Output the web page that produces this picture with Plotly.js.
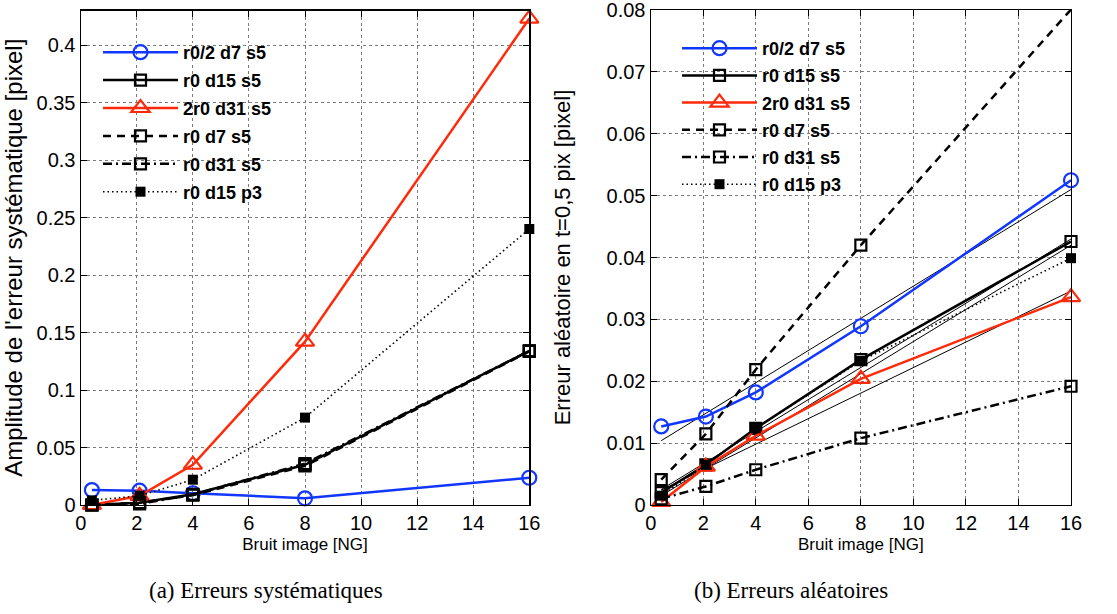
<!DOCTYPE html>
<html>
<head>
<meta charset="utf-8">
<script src="https://cdn.plot.ly/plotly-3.0.1.min.js"></script>
<style>
  html, body { margin: 0; padding: 0; background: #ffffff; }
  #chart { width: 1117px; height: 614px; }
</style>
</head>
<body>
<div id="chart"></div>
<script>
// ---- data ----
const noiseLevels = [0.4, 2.1, 4, 8, 16];
const seriesNames = ['r0/2 d7 s5', 'r0 d15 s5', '2r0 d31 s5', 'r0 d7 s5', 'r0 d31 s5', 'r0 d15 p3'];

// (a) systematic error amplitude [pixel]
const sysR02d7s5  = [0.013, 0.0125, 0.0102, 0.0058, 0.0237];
const sysR0d15s5  = [0.000, 0.0020, 0.0093, 0.0350, 0.1340];
const sys2R0d31s5 = [0.000, 0.0080, 0.0350, 0.1420, 0.4230];
const sysR0d7s5   = [0.000, 0.0020, 0.0085, 0.0340, 0.1335];
const sysR0d31s5  = [0.000, 0.0010, 0.0090, 0.0360, 0.1340];
const sysR0d15p3  = [0.004, 0.0080, 0.0220, 0.0760, 0.2400];

// (b) random error at t=0.5 pix [pixel]
const rndR02d7s5  = [0.0127, 0.0143, 0.0182, 0.0289, 0.0525];
const rndR0d15s5  = [0.0020, 0.0065, 0.0124, 0.0235, 0.0426];
const rnd2R0d31s5 = [0.0005, 0.0062, 0.0112, 0.0204, 0.0336];
const rndR0d7s5   = [0.0041, 0.0115, 0.0219, 0.0420, 0.0801];
const rndR0d31s5  = [0.0010, 0.0030, 0.0057, 0.0108, 0.0192];
const rndR0d15p3  = [0.0015, 0.0065, 0.0124, 0.0233, 0.0399];

// linear fits drawn as thin lines in (b)
const fitX       = [0.4, 16];
const fitBlue    = [0.0104, 0.0510];
const fitBlack1  = [0.0025, 0.0430];
const fitBlack2  = [0.0015, 0.0420];
const fitRed     = [0.0024, 0.0346];

const xTicks = [0, 2, 4, 6, 8, 10, 12, 14, 16];
const ySysTicks = [0, 0.05, 0.1, 0.15, 0.2, 0.25, 0.3, 0.35, 0.4];
const yRndTicks = [0, 0.01, 0.02, 0.03, 0.04, 0.05, 0.06, 0.07, 0.08];

// ---- styles ----
const BLUE = '#1036ff', RED = '#ff2a0a', BLACK = '#000000';
const styles = [
  {color: BLUE,  dash: 'solid', width: 2.5, symbol: 'circle-open',       msize: 14, mline: 2.2},
  {color: BLACK, dash: 'solid', width: 2.5, symbol: 'square-open',       msize: 11, mline: 2.2},
  {color: RED,   dash: 'solid', width: 2.5, symbol: 'triangle-up-open',  msize: 16, mline: 2.2},
  {color: BLACK, dash: '8px,6px', width: 2.5, symbol: 'square-open',     msize: 11, mline: 2.2},
  {color: BLACK, dash: '9px,4px,2px,4px', width: 2.5, symbol: 'square-open', msize: 11, mline: 2.2},
  {color: BLACK, dash: '1.5px,3px', width: 1.6, symbol: 'square',        msize: 10, mline: 0}
];

function mk(y, i, xa, ya, leg) {
  const s = styles[i];
  return {
    x: noiseLevels, y: y, xaxis: xa, yaxis: ya,
    type: 'scatter', mode: 'lines+markers', name: seriesNames[i],
    legend: leg, legendgroup: leg + '_' + i,
    line: {color: s.color, width: s.width, dash: s.dash},
    marker: {symbol: s.symbol, size: s.msize, color: s.color, line: {color: s.color, width: s.mline}},
    cliponaxis: false
  };
}
function fit(y) {
  return {x: fitX, y: y, xaxis: 'x2', yaxis: 'y2', type: 'scatter', mode: 'lines',
          showlegend: false, hoverinfo: 'skip', line: {color: BLACK, width: 1}};
}

const sysData = [sysR02d7s5, sysR0d15s5, sys2R0d31s5, sysR0d7s5, sysR0d31s5, sysR0d15p3];
const rndData = [rndR02d7s5, rndR0d15s5, rnd2R0d31s5, rndR0d7s5, rndR0d31s5, rndR0d15p3];

const traces = [];
traces.push(fit(fitBlue), fit(fitBlack1), fit(fitBlack2), fit(fitRed));
sysData.forEach((y, i) => traces.push(mk(y, i, 'x', 'y', 'legend')));
rndData.forEach((y, i) => traces.push(mk(y, i, 'x2', 'y2', 'legend2')));

const tickFont = {family: '"Liberation Sans", Arial, sans-serif', size: 20, color: '#000'};
const baseAxis = {
  showline: true, linecolor: '#000', linewidth: 1.2, mirror: 'ticks',
  ticks: 'inside', ticklen: 6, tickcolor: '#000', tickwidth: 1,
  showgrid: true, gridcolor: '#7a7a7a', griddash: 'dot', gridwidth: 1,
  zeroline: false, tickfont: tickFont, fixedrange: true, ticklabeloverflow: 'allow'
};
const xTitleFont = {family: '"Liberation Sans Narrow", "Liberation Sans", Arial, sans-serif', size: 17, color: '#000'};
const legendFont = {family: '"Liberation Sans", Arial, sans-serif', size: 18, color: '#000', weight: 'bold'};

const layout = {
  width: 1117, height: 614,
  margin: {l: 0, r: 0, t: 0, b: 0},
  paper_bgcolor: '#ffffff', plot_bgcolor: '#ffffff',
  showlegend: true,
  xaxis: Object.assign({}, baseAxis, {domain: [80.7/1117, 529.3/1117], range: [0, 16], tickvals: xTicks,
    title: {text: 'Bruit image [NG]', font: xTitleFont, standoff: 4}, anchor: 'y'}),
  yaxis: Object.assign({}, baseAxis, {domain: [109/614, 603.5/614], range: [0, 0.43], tickvals: ySysTicks,
    title: {text: "Amplitude de l'erreur systématique [pixel]",
            font: {family: '"Liberation Sans", Arial, sans-serif', size: 24, color: '#000'}, standoff: 7}, anchor: 'x'}),
  xaxis2: Object.assign({}, baseAxis, {domain: [650.7/1117, 1071/1117], range: [0, 16], tickvals: xTicks,
    title: {text: 'Bruit image [NG]', font: xTitleFont, standoff: 4}, anchor: 'y2'}),
  yaxis2: Object.assign({}, baseAxis, {domain: [109/614, 604/614], range: [0, 0.08002], tickvals: yRndTicks,
    title: {text: 'Erreur aléatoire en t=0,5 pix [pixel]',
            font: {family: '"Liberation Sans", Arial, sans-serif', size: 22, color: '#000'}, standoff: 29}, anchor: 'x2'}),
  legend: {x: 98/1117, y: 1 - 34/614, xanchor: 'left', yanchor: 'top', bgcolor: 'rgba(255,255,255,0)',
    borderwidth: 0, font: legendFont, tracegroupgap: 1.5, itemwidth: 75},
  legend2: {x: 677/1117, y: 1 - 30/614, xanchor: 'left', yanchor: 'top', bgcolor: 'rgba(255,255,255,0)',
    borderwidth: 0, font: legendFont, tracegroupgap: 0.8, itemwidth: 75},
  annotations: [
    {text: '(a) Erreurs systématiques', xref: 'paper', yref: 'paper', x: 266/1117, y: 1 - 590/614,
     xanchor: 'center', yanchor: 'middle', showarrow: false,
     font: {family: '"Liberation Serif", "DejaVu Serif", serif', size: 23, color: '#000'}},
    {text: '(b) Erreurs aléatoires', xref: 'paper', yref: 'paper', x: 791/1117, y: 1 - 590/614,
     xanchor: 'center', yanchor: 'middle', showarrow: false,
     font: {family: '"Liberation Serif", "DejaVu Serif", serif', size: 23, color: '#000'}}
  ]
};

Plotly.newPlot('chart', traces, layout, {displayModeBar: false, staticPlot: true});
</script>
</body>
</html>
